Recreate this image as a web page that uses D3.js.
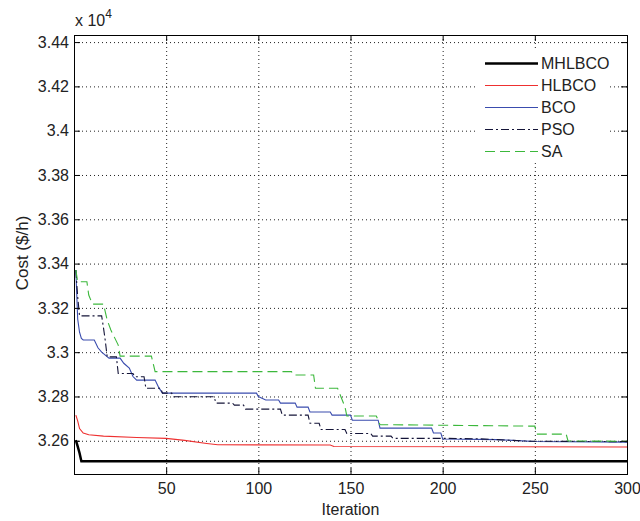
<!DOCTYPE html>
<html>
<head>
<meta charset="utf-8">
<script src="https://cdn.jsdelivr.net/npm/d3@7"></script>
<style>
  body { margin: 0; background: #fff; }
  text { font-family: "Liberation Sans", Arial, sans-serif; }
</style>
</head>
<body>
<div id="chart"></div>
<script>
// iteration / cost ($/h) breakpoints
const iterTicks = [50, 100, 150, 200, 250, 300];
const costTicks = [32600, 32800, 33000, 33200, 33400, 33600, 33800, 34000, 34200, 34400];

const mhlbco = [[1,32603],[2,32575],[3,32545],[4,32508],[300,32508]];

const hlbco = [[1,32716],[2,32690],[3,32655],[5,32635],[8,32627],[16,32621],[34,32615],
  [50,32611],[60,32602],[72,32588],[78,32582],[139,32581],[141,32574],[300,32572]];

const bco = [[1,33371],[2,33150],[3,33090],[4,33062],[5,33055],[11,33055],[13,33020],[15,33000],
  [19,32973],[25,32973],[27,32950],[30,32928],[32,32890],[34,32874],[44,32874],[46,32840],
  [48,32815],[99,32815],[100,32800],[104,32784],[111,32784],[112,32770],[120,32770],[121,32752],
  [127,32752],[128,32730],[139,32730],[140,32716],[150,32716],[151,32693],[165,32693],[166,32657],
  [194,32657],[195,32635],[199,32635],[200,32608],[230,32605],[250,32597],[300,32594]];

const pso = [[1,33371],[2,33250],[3,33164],[15,33164],[16,33110],[17,33050],[18,32979],[23,32979],
  [24,32904],[32,32904],[33,32889],[38,32889],[39,32837],[47,32837],[48,32815],[53,32815],
  [54,32799],[76,32799],[77,32770],[86,32770],[87,32761],[92,32761],[93,32743],[112,32743],
  [113,32716],[127,32716],[128,32679],[133,32679],[134,32651],[147,32651],[148,32633],[161,32633],
  [162,32621],[172,32621],[173,32611],[200,32611],[220,32609],[247,32598],[300,32596]];

const sa = [[1,33371],[2,33318],[7,33318],[8,33258],[10,33217],[16,33217],[18,33145],[20,33100],
  [24,33032],[25,32982],[42,32982],[44,32912],[118,32912],[119,32897],[130,32897],[131,32837],
  [143,32837],[147,32753],[148,32712],[164,32712],[166,32673],[200,32670],[250,32666],[251,32630],
  [267,32630],[268,32599],[300,32598]];

const seriesNames = ["MHLBCO", "HLBCO", "BCO", "PSO", "SA"];
const seriesData = [mhlbco, hlbco, bco, pso, sa];
const seriesColors = ["#000000", "#ee3030", "#3a4cae", "#141438", "#3cb83c"];
const seriesWidths = [2.5, 1.1, 1.1, 1.1, 1.1];
const seriesDash = [null, null, null, "8,3,2,3", "10,5"];

const width = 640, height = 521;
const plotLeft = 74, plotRight = 627, plotTop = 35, plotBottom = 474;

const svg = d3.select("#chart")
  .append("svg")
  .attr("width", width)
  .attr("height", height);

svg.append("rect").attr("width", width).attr("height", height).attr("fill", "#fff");

const x = d3.scaleLinear().domain([0, 300]).range([plotLeft, plotRight]);
const y = d3.scaleLinear().domain([32450, 34432]).range([plotBottom, plotTop]);

// grid
const grid = svg.append("g")
  .attr("stroke", "#222")
  .attr("stroke-width", 1)
  .attr("stroke-dasharray", "1,3");
grid.selectAll("line.vg")
  .data(iterTicks)
  .enter()
  .append("line")
  .attr("class", "vg")
  .attr("x1", d => x(d) + 0.5).attr("x2", d => x(d) + 0.5)
  .attr("y1", plotTop).attr("y2", plotBottom);
grid.selectAll("line.hg")
  .data(costTicks)
  .enter()
  .append("line")
  .attr("class", "hg")
  .attr("x1", plotLeft).attr("x2", plotRight)
  .attr("y1", d => y(d) + 0.5).attr("y2", d => y(d) + 0.5);

// series
const line = d3.line()
  .x(d => x(d[0]))
  .y(d => y(d[1]));

const plots = svg.append("g");
seriesData.forEach((data, i) => {
  plots.append("path")
    .datum(data)
    .attr("fill", "none")
    .attr("stroke", seriesColors[i])
    .attr("stroke-width", seriesWidths[i])
    .attr("stroke-dasharray", seriesDash[i])
    .attr("d", line);
});

// axes (inward ticks on all four sides)
const fmt = d => d3.format("")(+(d / 10000).toFixed(2));

svg.append("g")
  .attr("transform", `translate(0,${plotBottom})`)
  .call(d3.axisBottom(x).tickValues(iterTicks).tickSizeInner(-6).tickSizeOuter(0).tickPadding(9));
svg.append("g")
  .attr("transform", `translate(${plotLeft},0)`)
  .call(d3.axisLeft(y).tickValues(costTicks).tickFormat(fmt).tickSizeInner(-6).tickSizeOuter(0).tickPadding(5));
svg.append("g")
  .attr("transform", `translate(0,${plotTop})`)
  .call(d3.axisTop(x).tickValues(iterTicks).tickSizeInner(-6).tickSizeOuter(0).tickFormat(""));
svg.append("g")
  .attr("transform", `translate(${plotRight},0)`)
  .call(d3.axisRight(y).tickValues(costTicks).tickSizeInner(-6).tickSizeOuter(0).tickFormat(""));

svg.selectAll(".domain").remove();
svg.selectAll(".tick line").attr("stroke", "#000");
svg.selectAll(".tick text")
  .attr("fill", "#222")
  .style("font-size", "16px")
  .style("font-family", "'Liberation Sans', Arial, sans-serif");

svg.append("rect")
  .attr("x", plotLeft + 0.5).attr("y", plotTop + 0.5)
  .attr("width", plotRight - plotLeft).attr("height", plotBottom - plotTop)
  .attr("fill", "none")
  .attr("stroke", "#000")
  .attr("stroke-width", 1);

// exponent label
const expo = svg.append("text")
  .attr("x", 75).attr("y", 26)
  .attr("fill", "#222")
  .style("font-size", "16px");
expo.append("tspan").text("x 10");
expo.append("tspan").attr("dy", -8).style("font-size", "12px").text("4");

// axis titles
svg.append("text")
  .attr("x", (plotLeft + plotRight) / 2)
  .attr("y", 515)
  .attr("text-anchor", "middle")
  .attr("fill", "#222")
  .style("font-size", "16px")
  .text("Iteration");

svg.append("text")
  .attr("transform", "translate(28,253) rotate(-90)")
  .attr("text-anchor", "middle")
  .attr("fill", "#222")
  .style("font-size", "17px")
  .text("Cost ($/h)");

// legend
const legend = svg.append("g");
legend.append("rect")
  .attr("x", 478).attr("y", 51)
  .attr("width", 132).attr("height", 112)
  .attr("fill", "#fff");

const rows = legend.selectAll("g.item")
  .data(seriesNames)
  .enter()
  .append("g")
  .attr("class", "item")
  .attr("transform", (d, i) => `translate(0,${63 + i * 22})`);

rows.append("line")
  .attr("x1", 485).attr("x2", 538)
  .attr("y1", 0.5).attr("y2", 0.5)
  .attr("stroke", (d, i) => seriesColors[i])
  .attr("stroke-width", (d, i) => seriesWidths[i])
  .attr("stroke-dasharray", (d, i) => seriesDash[i]);

rows.append("text")
  .attr("x", 541)
  .attr("y", 0)
  .attr("dy", "0.35em")
  .attr("fill", "#222")
  .style("font-size", "16px")
  .text(d => d);
</script>
</body>
</html>
